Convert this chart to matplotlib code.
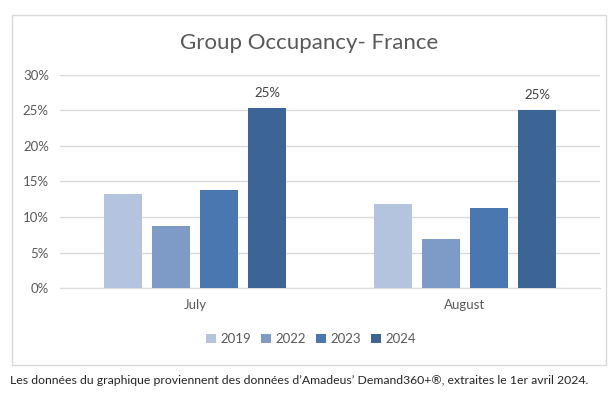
import matplotlib.pyplot as plt
import numpy as np
from matplotlib.patches import Rectangle
from matplotlib.ticker import FuncFormatter

plt.rcParams['font.family'] = ['Lato', 'DejaVu Sans']

months = ["July", "August"]
years = ["2019", "2022", "2023", "2024"]
values = {
    "2019": [13.2, 11.8],
    "2022": [8.8, 6.9],
    "2023": [13.8, 11.3],
    "2024": [25.4, 25.1],
}
labels_2024 = ["25%", "25%"]
colors = ["#B4C3DE", "#7E9BC8", "#4A77B0", "#3C6495"]

fig = plt.figure(figsize=(6.13, 3.97), dpi=100)
fig.patches.append(Rectangle((12/613, 1-365/397), 594/613, 350/397, transform=fig.transFigure,
                             facecolor="white", edgecolor="#D9D9D9", linewidth=1, zorder=-1))
ax = fig.add_axes([60/613, 1-288/397, 540/613, 213/397])

x = np.arange(len(months))
step = 0.178
width = 0.138
for i, yr in enumerate(years):
    pos = x + (i - 1.5) * step
    ax.bar(pos, values[yr], width=width, color=colors[i], label=yr, zorder=3)
    if yr == "2024":
        for p, v, lab in zip(pos, values[yr], labels_2024):
            ax.text(p, v + 1.2, lab, ha="center", va="bottom", fontsize=9.5, color="#404040")

ax.set_xlim(-0.5, 1.5)
ax.set_ylim(0, 30)
ax.set_yticks(range(0, 31, 5))
ax.yaxis.set_major_formatter(FuncFormatter(lambda v, _: f"{int(v)}%"))
ax.set_xticks(x)
ax.set_xticklabels(months)
ax.grid(axis="y", color="#D9D9D9", linewidth=1, zorder=0)
for s in ["top", "right", "left"]:
    ax.spines[s].set_visible(False)
ax.spines["bottom"].set_color("#D9D9D9")
ax.tick_params(length=0, labelsize=9.5, colors="#595959", pad=8)

fig.text(0.505, 1-43/397, "Group Occupancy- France", ha="center", va="center", fontsize=16, color="#595959")
ax.legend(loc="center", bbox_to_anchor=(0.465, -0.24), ncol=4, frameon=False, fontsize=9.5,
          handlelength=0.7, handleheight=0.7, handletextpad=0.35, columnspacing=0.8,
          labelcolor="#595959")
fig.text(10/613, 1-380/397, "Les données du graphique proviennent des données d’Amadeus’ Demand360+®, extraites le 1er avril 2024.",
         ha="left", va="center", fontsize=8.8, color="#262626")

fig.savefig("out.png", dpi=100)
